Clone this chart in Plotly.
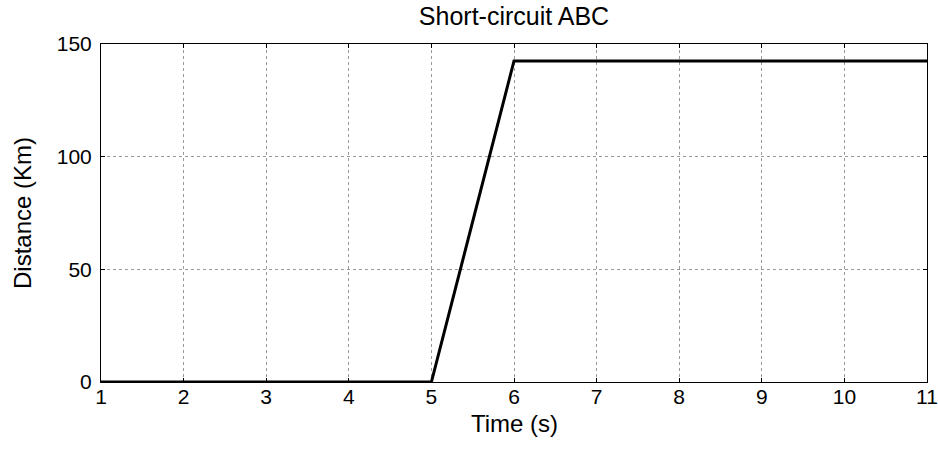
import plotly.graph_objects as go

time_s = [1, 5, 6, 11]
distance_km = [0, 0, 142.5, 142.5]
x_ticks = [1, 2, 3, 4, 5, 6, 7, 8, 9, 10, 11]
y_ticks = [0, 50, 100, 150]

W, H = 938, 449

fig = go.Figure()
fig.add_trace(go.Scatter(x=time_s, y=distance_km, mode="lines",
                         line=dict(color="black", width=3), cliponaxis=False,
                         showlegend=False))

axis_common = dict(showline=True, linecolor="black", linewidth=1, mirror="ticks",
                   ticks="inside", ticklen=4, tickcolor="black", automargin=False,
                   showgrid=True, gridcolor="#9a9a9a", griddash="dot", gridwidth=1,
                   zeroline=False, tickfont=dict(size=21, color="black"),
                   ticklabeloverflow="allow")

fig.update_xaxes(range=[1, 11], tickvals=x_ticks, ticktext=[str(v) for v in x_ticks],
                 ticklabelstandoff=-4, **axis_common)
fig.update_yaxes(range=[0, 150], tickvals=y_ticks, ticktext=[str(v) for v in y_ticks],
                 ticklabelstandoff=4,
                 title=dict(text="Distance (Km)", font=dict(size=24, color="black"), standoff=18),
                 **axis_common)

fig.add_annotation(text="Time (s)", xref="paper", yref="paper", x=0.5, y=0,
                   xanchor="center", yanchor="middle", yshift=-41, showarrow=False,
                   font=dict(size=24, color="black"))

fig.update_layout(
    width=W, height=H,
    margin=dict(l=101, r=11, t=44, b=67),
    paper_bgcolor="white", plot_bgcolor="white",
    font=dict(family="Liberation Sans, Arial, sans-serif", color="black"),
    title=dict(text="Short-circuit ABC", x=0.5, xref="paper", xanchor="center",
               y=1 - 16 / H, yref="container", yanchor="middle",
               font=dict(size=25, color="black")),
)

fig.write_html("out.html", config={"displayModeBar": False},
               post_script="document.body.style.margin='0';")
